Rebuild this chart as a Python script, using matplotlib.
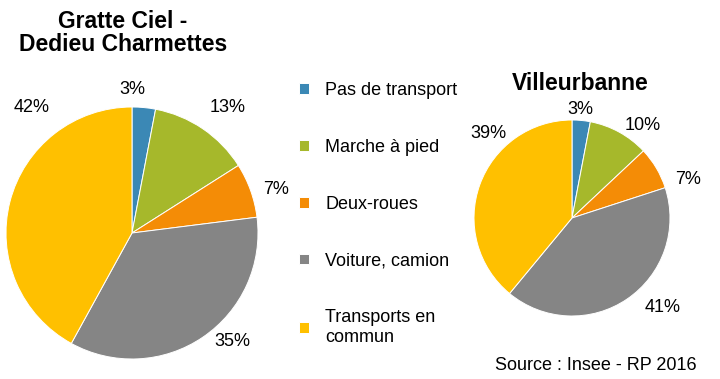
import numpy as np
import matplotlib.pyplot as plt

plt.rcParams['font.family'] = ['Liberation Sans', 'DejaVu Sans']

modes = ['Pas de transport', 'Marche à pied', 'Deux-roues',
         'Voiture, camion', 'Transports en\ncommun']
colors = ['#3B88B5', '#A6B82B', '#F48C06', '#858585', '#FFC000']
gratte_ciel = [3, 13, 7, 35, 42]
villeurbanne = [3, 10, 7, 41, 39]

fig = plt.figure(figsize=(7.2, 3.79), dpi=100)
ax = fig.add_axes([0, 0, 1, 1])

wp = dict(edgecolor='white', linewidth=0.7)
w1, _ = ax.pie(gratte_ciel, colors=colors, startangle=90, counterclock=False,
               center=(132, 146), radius=126, wedgeprops=wp, frame=True)
w2, _ = ax.pie(villeurbanne, colors=colors, startangle=90, counterclock=False,
               center=(572, 161), radius=98, wedgeprops=wp, frame=True)
ax.set_xlim(0, 720)
ax.set_ylim(0, 379)
ax.set_aspect('equal')
ax.axis('off')

# label positions (pixels from top-left)
pos1 = [(132, 89), (228, 108), (276, 190), (232, 341), (32, 108)]
pos2 = [(580, 110), (643, 125), (688, 180), (663, 307), (488, 133)]
for vals, pos in ((gratte_ciel, pos1), (villeurbanne, pos2)):
    for v, (x, y) in zip(vals, pos):
        ax.text(x, 379 - y, f'{v}%', ha='center', va='center', fontsize=13)

ax.text(123, 379 - 33, 'Gratte Ciel -\nDedieu Charmettes', ha='center', va='center',
        fontsize=16.5, fontweight='bold', linespacing=1.0)
ax.text(580, 379 - 83, 'Villeurbanne', ha='center', va='center',
        fontsize=16.5, fontweight='bold')
ax.text(697, 379 - 365, 'Source : Insee - RP 2016', ha='right', va='center',
        fontsize=13)

fig.legend(w1, modes, loc='upper left', bbox_to_anchor=(292 / 720, 1 - 75 / 379),
           frameon=False, fontsize=13, handlelength=0.55, handleheight=0.55,
           labelspacing=2.2, handletextpad=0.9, borderaxespad=0, borderpad=0.4)

fig.savefig('out.png', dpi=100)
